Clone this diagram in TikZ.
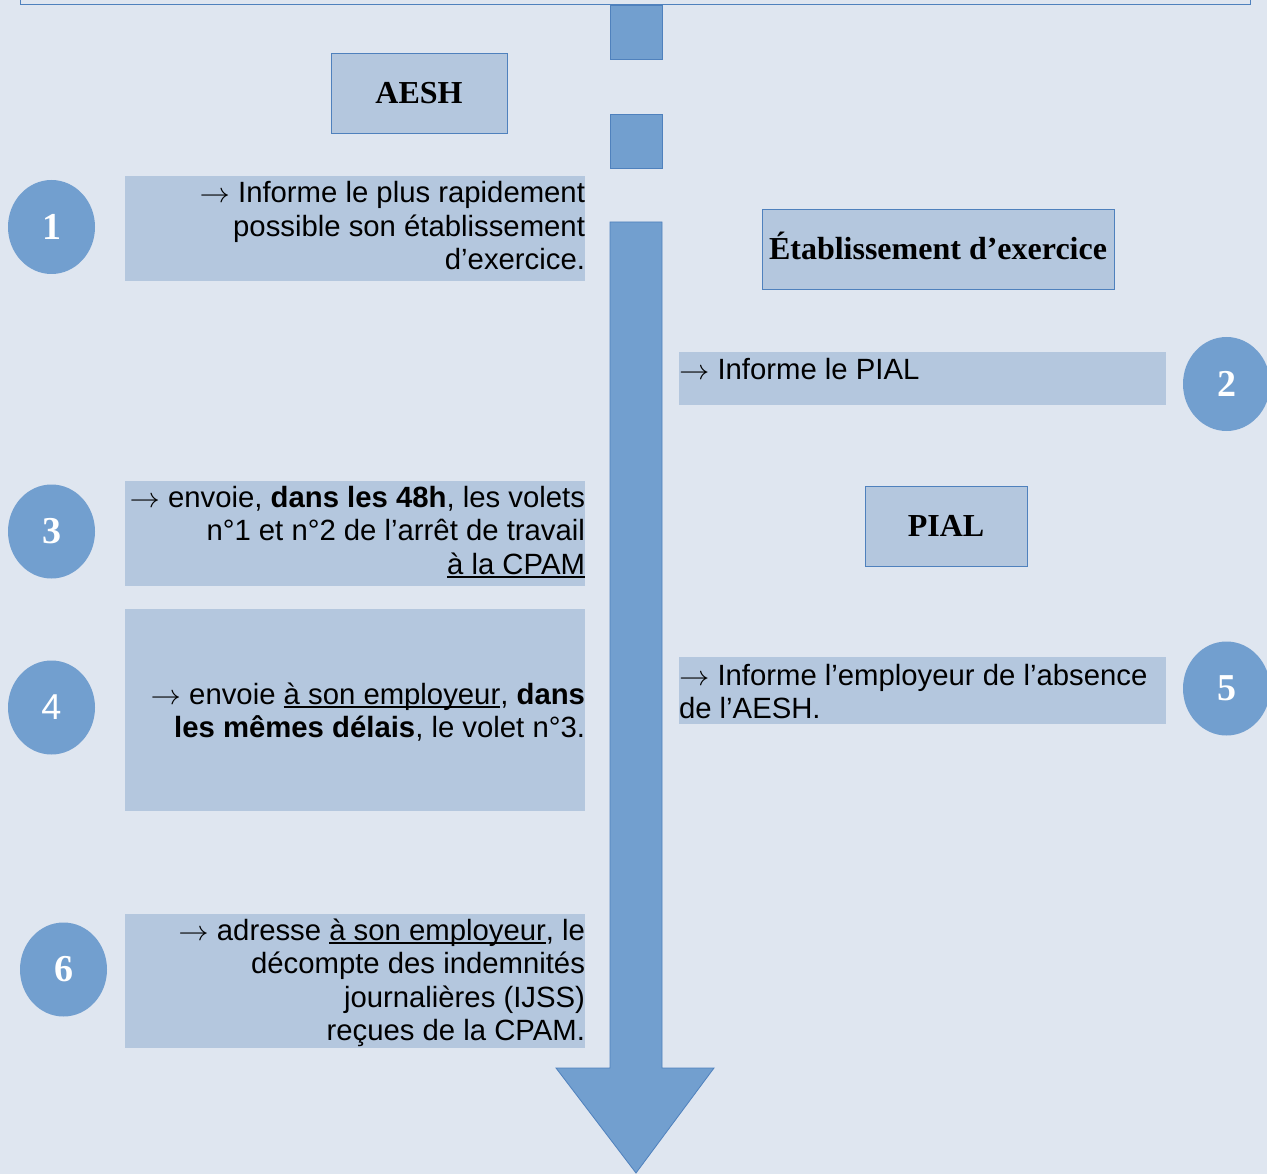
\documentclass[tikz,border=0pt]{standalone}
\usepackage{fontspec}
\setmainfont{Liberation Sans}
\newfontfamily\headfont{Liberation Serif}
\usetikzlibrary{shapes.geometric,calc}

\definecolor{bgcol}{RGB}{223,230,240}
\definecolor{boxcol}{RGB}{180,199,222}
\definecolor{arrcol}{RGB}{114,159,207}
\definecolor{edgecol}{RGB}{79,129,189}

% underline drawn at a fixed depth, crossing descenders
\newcommand\ulin[1]{{\setbox0\hbox{#1}\rlap{\rule[-4pt]{\wd0}{1.6pt}}\box0}}
% leading arrow of each step
\newcommand\arr{\scalebox{1.22}[1.12]{$\rightarrow$}}

\begin{document}
\begin{tikzpicture}[x=1pt,y=-1pt,
  panel/.style={rectangle, fill=boxcol, draw=none, inner sep=0pt, outer sep=0pt},
  title/.style={rectangle, fill=boxcol, draw=edgecol, line width=0.9pt, inner sep=0pt,
    text height=21pt, text depth=0pt, minimum height=80pt,
    font=\headfont\bfseries\fontsize{32}{38}\selectfont},
  txt/.style={inner sep=0pt, outer sep=0pt, font=\fontsize{29.3}{33.5}\selectfont},
  badge/.style={ellipse, fill=arrcol, draw=none, minimum width=87pt, minimum height=94pt,
    inner sep=0pt, text=white, font=\headfont\bfseries\fontsize{38}{40}\selectfont},
  shaft/.style={fill=arrcol, draw=edgecol, line width=0.8pt, line join=miter},
]
\useasboundingbox (0,0) rectangle (1267,1174);
\fill[bgcol] (0,0) rectangle (1267,1174);
\clip (0,0) rectangle (1267,1174);

% frame running along the top edge
\draw[edgecol, line width=1pt] (20,-10) rectangle (1250,5);

% the time line: two dashes, then the long arrow
\draw[shaft] (610,5) rectangle (662,59);
\draw[shaft] (610,114) rectangle (662,168);
\draw[shaft] (610,222) -- (662,222) -- (662,1068) -- (714,1068) -- (636,1173)
  -- (556,1068) -- (610,1068) -- cycle;

% headings
\node[title, minimum width=176pt] (aesh) at (419,93) {AESH};
\node[title, minimum width=352pt] (etab) at (938,249) {Établissement d’exercice};
\node[title, minimum width=162pt] (pial) at (946,526) {PIAL};

% step panels
\node[panel, minimum width=460pt, minimum height=105pt] (b1) at (355,228.5) {};
\node[panel, minimum width=487pt, minimum height=53pt]  (b2) at (922.5,378.5) {};
\node[panel, minimum width=460pt, minimum height=105pt] (b3) at (355,533.5) {};
\node[panel, minimum width=460pt, minimum height=202pt] (b4) at (355,710) {};
\node[panel, minimum width=487pt, minimum height=67pt]  (b5) at (922.5,690.5) {};
\node[panel, minimum width=460pt, minimum height=134pt] (b6) at (355,981) {};

% step texts (anchored on the baseline of their last line)
\node[txt, anchor=base east, align=right] (t1) at ($(b1.north east)+(0,94)$)
  {\arr{} Informe le plus rapidement\\possible son établissement\\d’exercice.};
\node[txt, anchor=base west, align=left] (t2) at ($(b2.north west)+(0,28)$)
  {\arr{} Informe le PIAL};
\node[txt, anchor=base east, align=right] (t3) at ($(b3.north east)+(0,93)$)
  {\arr{} envoie, \textbf{dans les 48h}, les volets\\n°1 et n°2 de l’arrêt de travail\\\ulin{à la CPAM}};
\node[txt, anchor=base east, align=right] (t4) at ($(b4.north east)+(0,128.5)$)
  {\arr{} envoie \ulin{à son employeur}, \textbf{dans}\\\textbf{les mêmes délais}, le volet n°3.};
\node[txt, anchor=base west, align=left] (t5) at ($(b5.north west)+(0,61.5)$)
  {\arr{} Informe l’employeur de l’absence\\de l’AESH.};
\node[txt, anchor=base east, align=right] (t6) at ($(b6.north east)+(0,126.5)$)
  {\arr{} adresse \ulin{à son employeur}, le\\décompte des indemnités\\journalières (IJSS)\\reçues de la CPAM.};

% numbered badges
\node[badge] (c1) at (51.5,227) {1};
\node[badge] (c2) at (1226.5,384) {2};
\node[badge] (c3) at (51.5,531.5) {3};
\node[badge, font=\fontsize{36}{40}\selectfont] (c4) at (51.5,707.5) {4};
\node[badge] (c5) at (1226.5,688.5) {5};
\node[badge] (c6) at (63.5,969.5) {6};
\end{tikzpicture}
\end{document}
